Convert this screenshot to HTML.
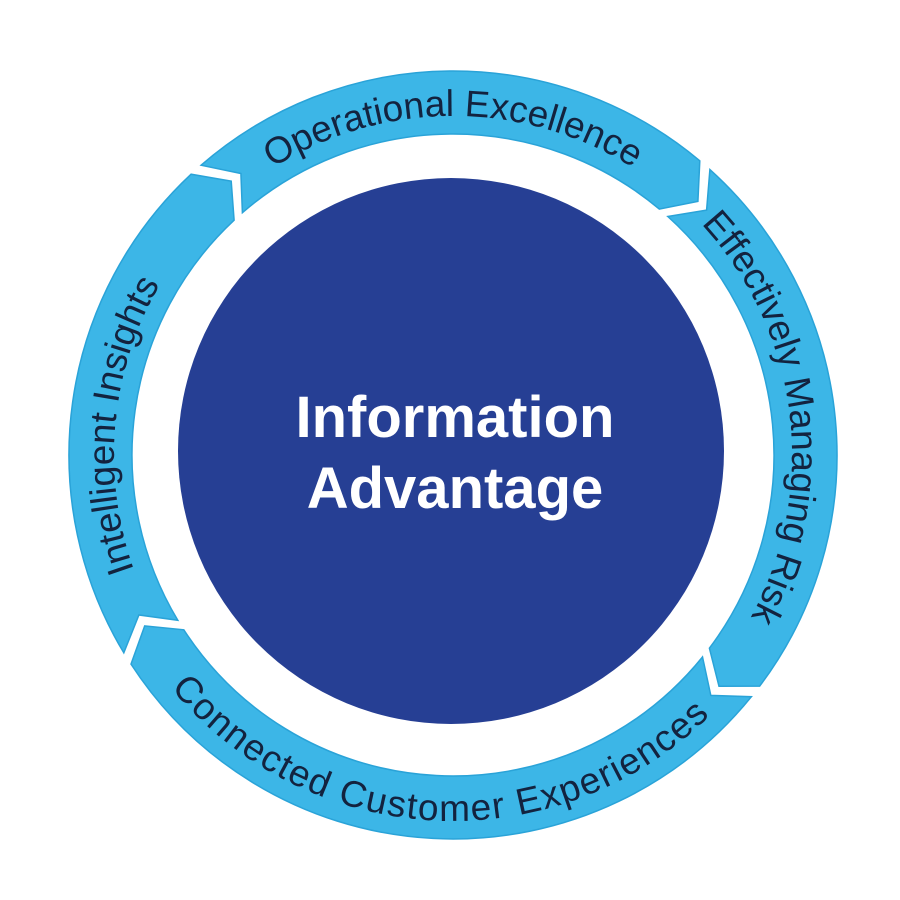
<!DOCTYPE html>
<html><head><meta charset="utf-8"><style>
html,body{margin:0;padding:0;background:#fff;}
svg{display:block;}
</style></head><body>
<svg id="s" width="900" height="900" viewBox="0 0 900 900" xmlns="http://www.w3.org/2000/svg">
<rect width="900" height="900" fill="#fff"/>
<g id="segs"></g>
<defs id="defs"></defs>
<circle cx="451" cy="451" r="273" fill="#263f94"/>
<text x="455" y="437" text-anchor="middle" font-family="Liberation Sans, sans-serif" font-weight="bold" font-size="58" fill="#fff">Information</text>
<text x="455" y="508" text-anchor="middle" font-family="Liberation Sans, sans-serif" font-weight="bold" font-size="58" fill="#fff">Advantage</text>
<g id="txt" font-family="Liberation Sans, sans-serif" font-size="37" fill="#13233f"></g>
</svg>
<script>
var cx=453,cy=455,RO=384,RI=321,RM=(RO+RI)/2;
function P(r,a){a=a*Math.PI/180;return (cx+r*Math.cos(a)).toFixed(1)+","+(cy+r*Math.sin(a)).toFixed(1);}
var segs=[[-132,-49],[-49,38],[38,148],[148,228]];
var g=document.getElementById('segs'),h='';
segs.forEach(function(s){
 var a=s[0]+1,b=s[1]-1;
 var d="M"+P(RO,a)+" A"+RO+","+RO+" 0 0 1 "+P(RO,b)+" L"+P(RM,b+4)+" L"+P(RI,b)+" A"+RI+","+RI+" 0 0 0 "+P(RI,a)+" L"+P(RM,a+4)+" Z";
 h+='<path d="'+d+'" fill="#3cb6e7" stroke="#2aa3d8" stroke-width="1.5"/>';
});
g.innerHTML=h;
var defs=document.getElementById('defs'),t=document.getElementById('txt');
function arc(id,r,a1,a2,cw){
 var big=Math.abs(a2-a1)>180?1:0;
 defs.innerHTML+='<path id="'+id+'" d="M'+P(r,a1)+' A'+r+','+r+' 0 '+big+' '+(cw?1:0)+' '+P(r,a2)+'"/>';
}
arc('p1',339,-150,-30,1);
arc('p2',339,-60,50,1);
arc('p3',366,160,20,0);
arc('p4',339,130,250,1);
var tt='';
tt+='<text><textPath href="#p1" startOffset="50%" text-anchor="middle">Operational Excellence</textPath></text>';
tt+='<text><textPath href="#p2" startOffset="48%" text-anchor="middle">Effectively Managing Risk</textPath></text>';
tt+='<text><textPath href="#p3" startOffset="48%" text-anchor="middle" letter-spacing="1.5">Connected Customer Experiences</textPath></text>';
tt+='<text><textPath href="#p4" startOffset="46%" text-anchor="middle">Intelligent Insights</textPath></text>';
t.innerHTML=tt;
</script>
</body></html>
